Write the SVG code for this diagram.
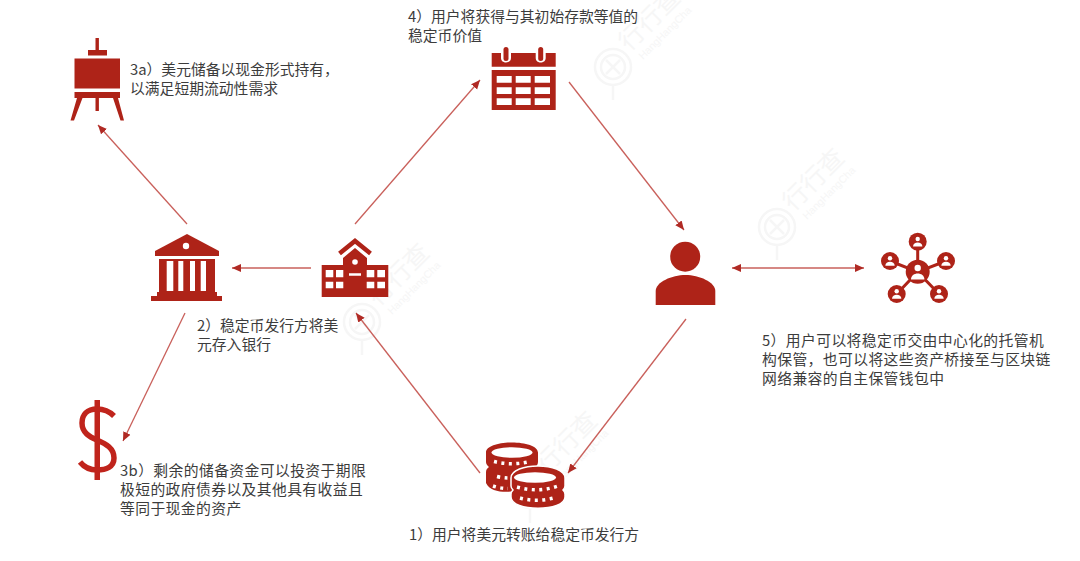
<svg xmlns="http://www.w3.org/2000/svg" width="1080" height="561" viewBox="0 0 1080 561">
<style>
.t{font-family:"Noto Sans CJK SC","Liberation Sans",sans-serif;font-size:14.8px;fill:#3c3c3c}
.l{letter-spacing:.4px}
.i{fill:#ae2318}
.w{fill:#fff}
.c{stroke:#c9605b;stroke-width:1.3;fill:none}
.wm{font-family:"Noto Sans CJK SC",sans-serif;font-size:25px;fill:#f6f6f6}
.ws{font-family:"Liberation Sans",sans-serif;font-size:10.5px;fill:#f6f6f6}
.wc{fill:none;stroke:#f6f6f6;stroke-width:2.5}
.d{fill:none;stroke:#fff;stroke-width:3.5;stroke-dasharray:3 4.500}
</style>
<defs>
<marker id="a" markerWidth="10" markerHeight="9" refX="9" refY="4.500" orient="auto" markerUnits="userSpaceOnUse"><path d="M0,0.500L9,4.500L0,8.500Z" fill="#b02a24"/></marker>
<marker id="b" markerWidth="10" markerHeight="9" refX="1" refY="4.500" orient="auto" markerUnits="userSpaceOnUse"><path d="M10,0.500L1,4.500L10,8.500Z" fill="#b02a24"/></marker>
<g id="wmk"><circle cx="0" cy="0" r="18" class="wc"/><circle cx="0" cy="0" r="12" class="wc"/><path d="M-7,-7L7,7M7,-7L-7,7M0,18V33" class="wc"/><text x="16" y="-15" class="wm" transform="rotate(-45 16 -15)">行行查</text><text x="30" y="-7" class="ws" transform="rotate(-45 30 -7)">HangHangCha</text></g>
</defs>
<rect width="1080" height="561" fill="#fff"/>
<g id="watermarks">
<use href="#wmk" x="613" y="67"/>
<use href="#wmk" x="777" y="227"/>
<use href="#wmk" x="362" y="322"/>
<use href="#wmk" x="530" y="490"/>
</g>
<g id="connectors">
<path class="c" d="M187,224L98,125" marker-end="url(#a)"/>
<path class="c" d="M311,268L232,268" marker-end="url(#a)"/>
<path class="c" d="M355,224L480,80" marker-end="url(#a)"/>
<path class="c" d="M569,82L684,230" marker-end="url(#a)"/>
<path class="c" d="M732,268L864,268" marker-start="url(#b)" marker-end="url(#a)"/>
<path class="c" d="M686,319L568,473" marker-end="url(#a)"/>
<path class="c" d="M480,473L356,313" marker-end="url(#a)"/>
<path class="c" d="M185,313L123,441" marker-end="url(#a)"/>
</g>
<g id="easel" class="i">
<rect x="95.500" y="38" width="3.400" height="13"/><rect x="88" y="50" width="19" height="5.500"/>
<rect x="74.500" y="58.500" width="45.500" height="30"/><rect x="74.500" y="92" width="45.500" height="6"/>
<rect x="95.500" y="98" width="3.400" height="13"/>
<path d="M77,98H82.500L74,120.500H70.500ZM113,98H118L124,120.500H120.500Z"/>
</g>
<g id="bank">
<path class="i" d="M187,234L219,251V256H155V251Z"/>
<circle class="w" cx="186" cy="246" r="3.200"/>
<path class="i" d="M159,259H215V292H217V296H222V301H151V296H157V292H159Z"/>
<path class="w" d="M166.700,261H173.300V291H166.700ZM178.300,261H183.300V291H178.300ZM190,261H195V291H190ZM200.700,261H206V291H200.700Z"/>
</g>
<g id="school">
<path class="i" d="M321.700,265H343V258L355,248L367,258V265H388.300V297H321.700Z"/>
<path d="M339.500,253.500L355,241L370.500,253.500" fill="none" stroke="#ae2318" stroke-width="4.500"/>
<circle class="w" cx="355" cy="262" r="2.800"/>
<path class="w" d="M325.700,270H333.300V277.300H325.700ZM336,270H343.300V277.300H336ZM325.700,281.700H333.300V288.300H325.700ZM336,281.700H343.300V288.300H336ZM366.700,270H374.300V277.300H366.700ZM377.300,270H385V277.300H377.300ZM366.700,281.700H374.300V288.300H366.700ZM377.300,281.700H385V288.300H377.300ZM349,273.300H361V275.700H349Z"/>
</g>
<g id="calendar">
<path class="i" d="M491.700,53H501V58C501,64 511,64 511,58V53H535.700V58C535.700,64 545.700,64 545.700,58V53H555.700V66.700H491.700ZM491.700,70H555.700V110H491.700Z"/>
<rect class="i" x="503.500" y="47" width="5" height="14" rx="2.500"/><rect class="i" x="538.200" y="47" width="5" height="14" rx="2.500"/>
<path class="w" d="M496.700,76H511.700V82.700H496.700ZM515.700,76H530.700V82.700H515.700ZM534.700,76H550V82.700H534.700ZM496.700,87.300H511.700V94H496.700ZM515.700,87.300H530.700V94H515.700ZM534.700,87.300H550V94H534.700ZM496.700,98.300H511.700V105H496.700ZM515.700,98.300H530.700V105H515.700ZM534.700,98.300H550V105H534.700Z"/>
</g>
<g id="user" class="i">
<circle cx="685.200" cy="256.700" r="15"/>
<path d="M655.700,305V291C655.700,282 672,275 685.500,275C699,275 715.300,282 715.300,291V305Z"/>
</g>
<g id="network">
<path d="M917.700,242V272M890,261L917.700,272L946,261M896.700,294L917.700,272L939,294" fill="none" stroke="#ae2318" stroke-width="3"/>
<g class="i"><circle cx="917.700" cy="241.700" r="9"/><circle cx="890" cy="261" r="9"/><circle cx="946" cy="261" r="9"/><circle cx="896.700" cy="294" r="9"/><circle cx="939" cy="294" r="9"/><circle cx="917.700" cy="271.700" r="12"/></g>
<g class="w">
<circle cx="917.700" cy="239" r="2.200"/><path d="M913,246.500C913,241 922.400,241 922.400,246.500Z"/>
<circle cx="890" cy="258.300" r="2.200"/><path d="M885.300,265.800C885.300,260.300 894.700,260.300 894.700,265.800Z"/>
<circle cx="946" cy="258.300" r="2.200"/><path d="M941.300,265.800C941.300,260.300 950.700,260.300 950.700,265.800Z"/>
<circle cx="896.700" cy="291.300" r="2.200"/><path d="M892,298.800C892,293.300 901.400,293.300 901.400,298.800Z"/>
<circle cx="939" cy="291.300" r="2.200"/><path d="M934.300,298.800C934.300,293.300 943.700,293.300 943.700,298.800Z"/>
<circle cx="917.700" cy="268" r="3.200"/><path d="M911,279.500C911,271.500 924.400,271.500 924.400,279.500Z"/>
</g>
</g>
<g id="coins">
<path class="i" d="M486,452.500C486,439 538,439 538,452.500V462C538,465 536,467 533,468L515,491C505,493 490,492 486,483V472C486,469 488,468 489,467C487,465 486,464 486,462Z"/>
<path d="M494,461.500Q512,466 530,461.500M497,476.500Q503,478 508,478M493,486Q500,488.500 508,488.500" class="d"/>
<ellipse class="w" cx="512" cy="452.500" rx="20.500" ry="5.300"/>
<path class="i" stroke="#fff" stroke-width="1.500" d="M511,478C511,462 565,462 565,478V486C565,488 564,489 563,490C564,491 565,492 565,494V497C565,512 511,512 511,497V494C511,492 512,491 513,490C512,489 511,488 511,486Z"/>
<ellipse class="w" cx="535" cy="477.500" rx="21" ry="5.300"/>
<path d="M517,487Q538,493 558,486M520,498Q538,503 557,497" class="d"/>
</g>
<g id="dollar">
<rect x="94.500" y="400" width="5.500" height="80" fill="#c0241c"/>
<path d="M114,416C108,410 102,409 97,409C87,409 82,415 82,423C82,433 90,437 97,440C106,444 114,448 114,458C114,467 106,470 97,470C90,470 84,467 80,462" fill="none" stroke="#c0241c" stroke-width="5.500"/>
</g>
<g id="labels">
<g id="label-3a" class="t"><text x="130" y="74.500">3a）美元储备以现金形式持有，</text><text x="130" y="93.500">以满足短期流动性需求</text></g>
<g id="label-4" class="t"><text x="408" y="22">4）用户将获得与其初始存款等值的</text><text x="408" y="41">稳定币价值</text></g>
<g id="label-2" class="t"><text x="197" y="330.500">2）稳定币发行方将美</text><text x="197" y="349.500">元存入银行</text></g>
<g id="label-3b" class="t l"><text x="120" y="475.500">3b）剩余的储备资金可以投资于期限</text><text x="120" y="494.500">极短的政府债券以及其他具有收益且</text><text x="120" y="513.500">等同于现金的资产</text></g>
<g id="label-5" class="t l"><text x="762" y="346">5）用户可以将稳定币交由中心化的托管机</text><text x="762" y="365">构保管，也可以将这些资产桥接至与区块链</text><text x="762" y="384">网络兼容的自主保管钱包中</text></g>
<g id="label-1" class="t"><text x="409" y="540">1）用户将美元转账给稳定币发行方</text></g>
</g>
</svg>
